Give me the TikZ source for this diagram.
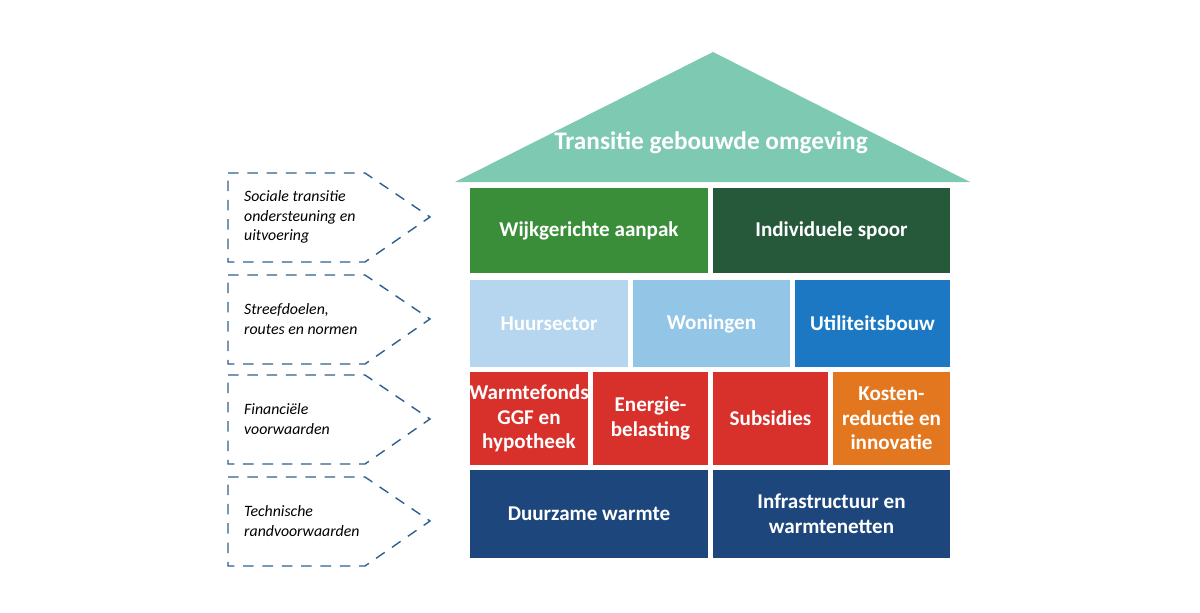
\documentclass[tikz,border=0pt]{standalone}
\usepackage{fontspec}
\setmainfont{Carlito}
\usetikzlibrary{positioning}
\definecolor{RoofGreen}{HTML}{7EC9B2}
\definecolor{WijkGreen}{HTML}{3A8E3A}
\definecolor{SpoorGreen}{HTML}{25593A}
\definecolor{HuurBlue}{HTML}{B5D6EE}
\definecolor{WoonBlue}{HTML}{93C6E6}
\definecolor{UtilBlue}{HTML}{1C78C2}
\definecolor{FinRed}{HTML}{D8302A}
\definecolor{FinOrange}{HTML}{E3771F}
\definecolor{TechBlue}{HTML}{1D477C}
\definecolor{DashBlue}{HTML}{2E5F8E}
\begin{document}
\begin{tikzpicture}[x=0.02cm, y=-0.02cm,
        block/.style={draw=none, text=white, font=\bfseries\large, align=center, inner sep=0pt},
        pillar/.style={draw=DashBlue, thick, dash pattern=on 6pt off 5pt},
        pillartext/.style={font=\itshape\small, align=left, anchor=west}
    ]
    \useasboundingbox (0,0) rectangle (1200,612);

    % Roof
    \fill[RoofGreen] (455,182) -- (713,52) -- (970,182) -- cycle;
    \node[block, font=\bfseries\Large] (roof) at (711,143) {Transitie gebouwde omgeving};

    % Blocks: x1, y1, x2, y2, colour, name, text
    \foreach \xa/\ya/\xb/\yb/\col/\nm/\txt in {
            470/188/708/273/WijkGreen/wijk/{Wijkgerichte aanpak},
            713/188/950/273/SpoorGreen/spoor/{Individuele spoor},
            470/280/628/367/HuurBlue/huur/{Huursector},
            633/280/790/367/WoonBlue/woon/{Woningen},
            795/280/950/367/UtilBlue/util/{Utiliteitsbouw},
            470/372/588/465/FinRed/fonds/{Warmtefonds\\GGF en\\hypotheek},
            593/372/708/465/FinRed/belasting/{Energie-\\belasting},
            713/372/828/465/FinRed/subsidie/{Subsidies},
            833/372/950/465/FinOrange/kosten/{Kosten-\\reductie en\\innovatie},
            470/470/708/558/TechBlue/duur/{Duurzame warmte},
            713/470/950/558/TechBlue/infra/{Infrastructuur en\\warmtenetten}} {
        \fill[\col] (\xa,\ya) rectangle (\xb,\yb);
        \node[block] (\nm) at ({(\xa+\xb)/2},{(\ya+\yb)/2}) {\txt};
    }

    % Pillars on the left
    \foreach \ya/\nm/\txt in {
            173/sociaal/{Sociale transitie\\ondersteuning en\\uitvoering},
            275/streef/{Streefdoelen,\\routes en normen},
            375/financ/{Financiële\\voorwaarden},
            477/techn/{Technische\\randvoorwaarden}} {
        \draw[pillar] (228,\ya) -- (365,\ya) -- (430,\ya+44) -- (365,\ya+89) -- (228,\ya+89) -- cycle;
        \node[pillartext] (\nm) at (238,\ya+44) {\txt};
    }
\end{tikzpicture}
\end{document}
